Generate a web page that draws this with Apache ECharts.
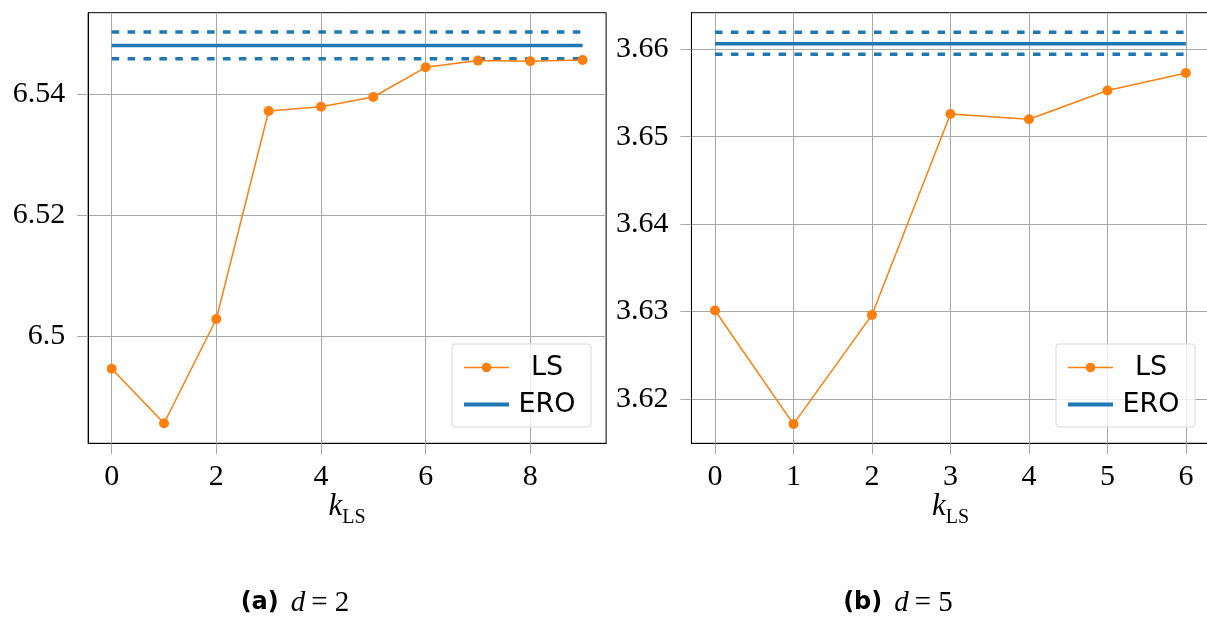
<!DOCTYPE html>
<html><head><meta charset="utf-8">
<script src="https://cdn.jsdelivr.net/npm/echarts@6/dist/echarts.min.js"></script>
<style>html,body{margin:0;padding:0;background:#fff}#c{width:1207px;height:618px}</style>
</head><body><div id="c"></div>
<script>
// ---- data ----
const kLeft = [0, 1, 2, 3, 4, 5, 6, 7, 8, 9];
const lsLeft = [6.4947, 6.4857, 6.5029, 6.5372, 6.5379, 6.5395, 6.5444, 6.5455, 6.5454, 6.5456];
const eroLeft = 6.5480, eroLeftUpper = 6.5502, eroLeftLower = 6.5458;

const kRight = [0, 1, 2, 3, 4, 5, 6];
const lsRight = [3.6301, 3.6171, 3.6296, 3.6526, 3.6520, 3.6553, 3.6573];
const eroRight = 3.66064, eroRightUpper = 3.66195, eroRightLower = 3.65943;

const xTicksLeft = [0, 2, 4, 6, 8];
const xTicksRight = [0, 1, 2, 3, 4, 5, 6];
const yTicksLeft = [6.5, 6.52, 6.54];
const yTicksRight = [3.62, 3.63, 3.64, 3.65, 3.66];
const captionLeft = ['(a)', 'd', '= 2'];
const captionRight = ['(b)', 'd', '= 5'];
const legendNames = ['LS', 'ERO'];

// ---- styles ----
const ORANGE = '#ff7f0e', BLUE = '#1f77b4', GRID = '#a8a8a8';
const SERIF = "'Liberation Serif', 'DejaVu Serif', serif";
const SANS = "'DejaVu Sans', sans-serif";

function zip(a, b) { return a.map((v, i) => [v, b[i]]); }
function fmt(v) { return String(parseFloat(Number(v).toFixed(4))); }

function xAxis(idx, min, max, ticks) {
  return {
    type: 'value', gridIndex: idx, min: min, max: max,
    name: '{k|k}{s|LS}', nameLocation: 'middle', nameGap: 48, nameMoveOverlap: false,
    nameTextStyle: {
      rich: {
        k: { fontFamily: SERIF, fontStyle: 'italic', fontSize: 31, lineHeight: 30, verticalAlign: 'top', color: '#000' },
        s: { fontFamily: SERIF, fontSize: 20, lineHeight: 52, color: '#000' }
      }
    },
    axisLine: { show: true, onZero: false, lineStyle: { color: '#000', width: 1 } },
    axisTick: { show: true, customValues: ticks, length: 11, lineStyle: { color: GRID, width: 1 } },
    axisLabel: { customValues: ticks, fontFamily: SERIF, fontSize: 30, color: '#000', margin: 19, formatter: fmt },
    splitLine: { show: true, lineStyle: { color: GRID, width: 1 } }
  };
}
function yAxis(idx, min, max, ticks) {
  return {
    type: 'value', gridIndex: idx, min: min, max: max, scale: true,
    axisLine: { show: true, onZero: false, lineStyle: { color: '#000', width: 1 } },
    axisTick: { show: true, customValues: ticks, length: 11, lineStyle: { color: GRID, width: 1 } },
    axisLabel: { customValues: ticks, fontFamily: SERIF, fontSize: 30, color: '#000', margin: 23, formatter: fmt },
    splitLine: { show: true, lineStyle: { color: GRID, width: 1 } }
  };
}
function seriesFor(idx, ks, ls, ero, up, lo) {
  const x0 = ks[0], x1 = ks[ks.length - 1];
  return [
    { name: 'ERO', type: 'line', xAxisIndex: idx, yAxisIndex: idx, symbol: 'none', silent: true,
      data: [[x0, ero], [x1, ero]], lineStyle: { color: BLUE, width: 3.5 }, itemStyle: { color: BLUE }, z: 2 },
    { name: 'ERO upper', type: 'line', xAxisIndex: idx, yAxisIndex: idx, symbol: 'none', silent: true,
      data: [[x0, up], [x1, up]], lineStyle: { color: BLUE, width: 3.5, type: [7.5, 8.4] }, z: 2 },
    { name: 'ERO lower', type: 'line', xAxisIndex: idx, yAxisIndex: idx, symbol: 'none', silent: true,
      data: [[x0, lo], [x1, lo]], lineStyle: { color: BLUE, width: 3.5, type: [7.5, 8.4] }, z: 2 },
    { name: 'LS', type: 'line', xAxisIndex: idx, yAxisIndex: idx, symbol: 'circle', symbolSize: 10, silent: true,
      data: zip(ks, ls), lineStyle: { color: ORANGE, width: 1.5 }, itemStyle: { color: ORANGE }, z: 3 }
  ];
}
function legend(left) {
  return {
    orient: 'vertical', left: left, top: 344, selectedMode: false,
    data: [
      { name: legendNames[0], lineStyle: { width: 1.5 } },
      { name: legendNames[1], itemStyle: { opacity: 0 }, lineStyle: { width: 4 } }
    ],
    itemWidth: 45, itemHeight: 12, itemGap: 10,
    padding: [10, 11, 9, 10],
    backgroundColor: 'rgba(255,255,255,0.8)', borderColor: '#d9d9d9', borderWidth: 1, borderRadius: 3,
    formatter: n => '{t|' + n + '}',
    textStyle: { rich: { t: { fontFamily: SANS, fontSize: 27, lineHeight: 28, width: 66, align: 'center', color: '#000' } } }
  };
}
function caption(cx, parts) {
  return {
    type: 'text', x: cx, y: 603, silent: true,
    style: {
      text: '{a|' + parts[0] + '}{d|' + parts[1] + '}{n|' + parts[2] + '}',
      align: 'center', verticalAlign: 'middle', textAlign: 'center', textVerticalAlign: 'middle',
      rich: {
        a: { fontFamily: SANS, fontWeight: 'bold', fontSize: 24, fill: '#000', padding: [0, 12, 0, 0] },
        d: { fontFamily: SERIF, fontStyle: 'italic', fontSize: 29, fill: '#000', padding: [0, 6, 0, 0] },
        n: { fontFamily: SERIF, fontSize: 29, fill: '#000' }
      }
    }
  };
}

const chart = echarts.init(document.getElementById('c'), null, { renderer: 'canvas' });
chart.setOption({
  animation: false,
  backgroundColor: '#fff',
  grid: [
    { left: 88.15, top: 12.7, width: 518, height: 430.6, outerBoundsMode: 'none', containLabel: false,
      show: true, borderColor: '#000', borderWidth: 1, backgroundColor: 'transparent' },
    { left: 691.45, top: 12.7, width: 518, height: 430.6, outerBoundsMode: 'none', containLabel: false,
      show: true, borderColor: '#000', borderWidth: 1, backgroundColor: 'transparent' }
  ],
  xAxis: [xAxis(0, -0.45, 9.45, xTicksLeft), xAxis(1, -0.3, 6.3, xTicksRight)],
  yAxis: [yAxis(0, 6.4824, 6.5534, yTicksLeft), yAxis(1, 3.6149, 3.6642, yTicksRight)],
  legend: [legend(452), legend(1056)],
  series: seriesFor(0, kLeft, lsLeft, eroLeft, eroLeftUpper, eroLeftLower)
    .concat(seriesFor(1, kRight, lsRight, eroRight, eroRightUpper, eroRightLower)),
  graphic: [caption(295, captionLeft), caption(898, captionRight)]
});
</script></body></html>
